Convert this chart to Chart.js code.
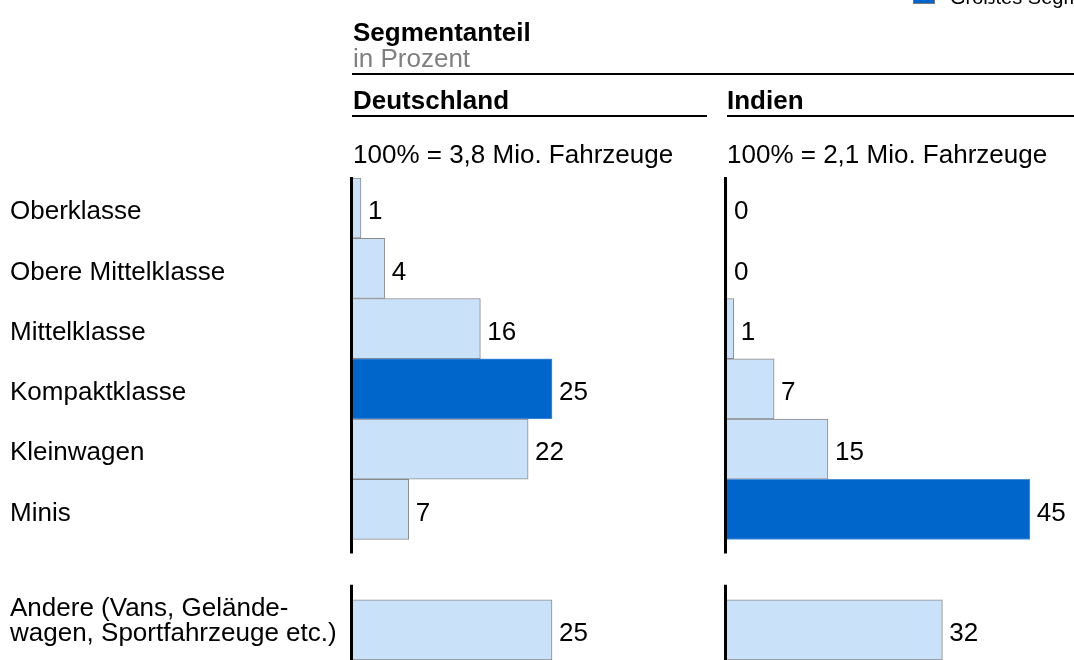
<!DOCTYPE html>
<html>
<head>
<meta charset="utf-8">
<script src="https://cdn.jsdelivr.net/npm/chart.js@4/dist/chart.umd.min.js"></script>
<style>
  html, body { margin: 0; padding: 0; background: #fff; }
  body { width: 1074px; height: 660px; overflow: hidden; position: relative;
         font-family: "Liberation Sans", Arial, Helvetica, sans-serif; }
  #wrap { position: absolute; left: 0; top: 0; width: 1074px; height: 660px; }
  .t { position: absolute; font-size: 26px; line-height: 26px; white-space: nowrap; color: #000; }
  .b { font-weight: bold; }
  .rule { position: absolute; background: #000; }
</style>
</head>
<body>
<div id="wrap"><canvas id="c" width="1074" height="660"></canvas></div>

<div class="t" style="left:913px;top:-18px;width:20px;height:20px;background:#0066cc;border:1px solid #7a7a7a;"></div>
<div class="t" style="left:950px;top:-13px;font-size:20px;line-height:20px;">Größtes Segment</div>

<div class="t b" style="left:353px;top:19px;">Segmentanteil</div>
<div class="t" style="left:353px;top:45px;color:#808080;">in Prozent</div>
<div class="rule" style="left:352px;top:73px;width:722px;height:1.5px;"></div>

<div class="t b" style="left:353px;top:87px;">Deutschland</div>
<div class="rule" style="left:352px;top:115px;width:355px;height:2px;"></div>
<div class="t b" style="left:727px;top:87px;">Indien</div>
<div class="rule" style="left:727px;top:115px;width:347px;height:2px;"></div>

<div class="t" style="left:353px;top:141px;">100% = 3,8 Mio. Fahrzeuge</div>
<div class="t" style="left:727px;top:141px;">100% = 2,1 Mio. Fahrzeuge</div>

<script>
// ---- data ----
const categories = [
  'Oberklasse',
  'Obere Mittelklasse',
  'Mittelklasse',
  'Kompaktklasse',
  'Kleinwagen',
  'Minis',
  '',
  ['Andere (Vans, Gelände-', 'wagen, Sportfahrzeuge etc.)', '']
];
const deutschland = [1, 4, 16, 25, 22, 7, null, 25];
const indien      = [0, 0, 1, 7, 15, 45, null, 32];
const segmentCount = 6; // first six rows are vehicle segments

// ---- styling ----
const FONT = '"Liberation Sans", Arial, Helvetica, sans-serif';
const LIGHT = '#c9e1f9';
const DARK = '#0066cc';
const LIGHT_BORDER = '#8a8a8a';
const DARK_BORDER = '#4a8fd8';

function largestIndex(arr) {
  let best = 0;
  for (let i = 1; i < segmentCount; i++) if (arr[i] > arr[best]) best = i;
  return best;
}
function fills(arr) {
  const m = largestIndex(arr);
  return arr.map((v, i) => i === m ? DARK : LIGHT);
}
function borders(arr) {
  const m = largestIndex(arr);
  return arr.map((v, i) => i === m ? DARK_BORDER : LIGHT_BORDER);
}

const valueLabels = {
  id: 'valueLabels',
  afterDatasetsDraw(chart) {
    const ctx = chart.ctx;
    ctx.save();
    ctx.font = '26px ' + FONT;
    ctx.fillStyle = '#000';
    ctx.textAlign = 'left';
    ctx.textBaseline = 'middle';
    chart.data.datasets.forEach((ds, di) => {
      const meta = chart.getDatasetMeta(di);
      meta.data.forEach((el, i) => {
        const v = ds.data[i];
        if (v === null || v === undefined) return;
        ctx.fillText(String(v), el.x + 7, el.y + 4);
      });
    });
    ctx.restore();
  }
};

const baselines = {
  id: 'baselines',
  afterDatasetsDraw(chart) {
    const ctx = chart.ctx;
    const y = chart.scales.y;
    const rowH = (chart.chartArea.bottom - chart.chartArea.top) / categories.length;
    const segTop = y.getPixelForValue(0) - rowH / 2 - 1;
    const segBottom = y.getPixelForValue(segmentCount - 1) + rowH / 2 + 14;
    const otherTop = y.getPixelForValue(categories.length - 1) - rowH / 2 - 15;
    const otherBottom = chart.chartArea.bottom + 20;
    ctx.save();
    ctx.strokeStyle = '#000';
    ctx.lineWidth = 3;
    ['xD', 'xI'].forEach(id => {
      const px = chart.scales[id].getPixelForValue(0) - 1.5;
      ctx.beginPath();
      ctx.moveTo(px, segTop); ctx.lineTo(px, segBottom);
      ctx.moveTo(px, otherTop); ctx.lineTo(px, otherBottom);
      ctx.stroke();
    });
    ctx.restore();
  }
};

const pxPerUnitD = 7.96, pxPerUnitI = 6.73;
const plotLeft = 353, plotRight = 1074, zeroI = 727;
const plotW = plotRight - plotLeft;

new Chart(document.getElementById('c'), {
  type: 'bar',
  data: {
    labels: categories,
    datasets: [
      {
        label: 'Deutschland',
        data: deutschland,
        xAxisID: 'xD',
        backgroundColor: fills(deutschland),
        borderColor: borders(deutschland),
        borderWidth: c => (c.raw ? 1 : 0),
        grouped: false,
        barPercentage: 1,
        categoryPercentage: 1
      },
      {
        label: 'Indien',
        data: indien,
        xAxisID: 'xI',
        backgroundColor: fills(indien),
        borderColor: borders(indien),
        borderWidth: c => (c.raw ? 1 : 0),
        grouped: false,
        barPercentage: 1,
        categoryPercentage: 1
      }
    ]
  },
  options: {
    indexAxis: 'y',
    responsive: false,
    animation: false,
    layout: { padding: { left: 10, right: 0, top: 178, bottom: 0 } },
    plugins: { legend: { display: false }, tooltip: { enabled: false }, title: { display: false } },
    scales: {
      y: {
        type: 'category',
        grid: { display: false },
        border: { display: false },
        ticks: {
          crossAlign: 'far',
          padding: 0,
          labelOffset: 4,
          color: '#000',
          autoSkip: false,
          font: { family: FONT, size: 26, lineHeight: 0.96 }
        },
        afterFit: s => { s.width = plotLeft - 10; s.paddingTop = 0; s.paddingBottom = 0; }
      },
      xD: {
        type: 'linear', display: false, position: 'bottom',
        min: 0, max: plotW / pxPerUnitD
      },
      xI: {
        type: 'linear', display: false, position: 'bottom',
        min: -(zeroI - plotLeft) / pxPerUnitI,
        max: (plotRight - zeroI) / pxPerUnitI
      }
    }
  },
  plugins: [valueLabels, baselines]
});
</script>
</body>
</html>
